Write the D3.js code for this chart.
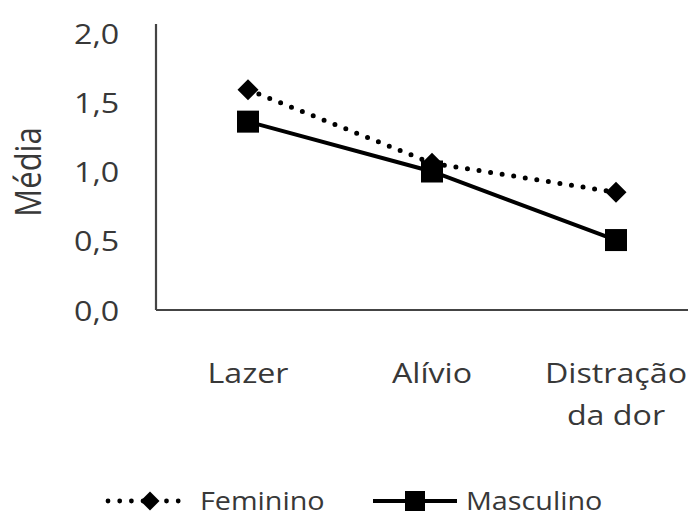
<!DOCTYPE html>
<html>
<head>
<meta charset="utf-8">
<script src="https://cdn.jsdelivr.net/npm/d3@7"></script>
<style>
  body { margin: 0; background: #fff; }
  svg { display: block; }
  text { font-family: "Open Sans", sans-serif; fill: #383838; }
</style>
</head>
<body>
<div id="chart"></div>
<script>
var categories = ["Lazer", "Alívio", "Distração\nda dor"];
var feminino = [1.59, 1.06, 0.85];
var masculino = [1.36, 1.00, 0.505];
var yTicks = [0, 0.5, 1.0, 1.5, 2.0];
var seriesNames = ["Feminino", "Masculino"];

var width = 688, height = 516;
var sx = 1.15; // text in the picture is a bit stretched sideways

var svg = d3.select("#chart").append("svg")
    .attr("width", width)
    .attr("height", height);

var x = d3.scalePoint()
    .domain(categories)
    .range([156, 708])
    .padding(0.5);

var y = d3.scaleLinear()
    .domain([0, 2])
    .range([310, 33]);

// y tick labels
var yAxis = d3.axisLeft(y)
    .tickValues(yTicks)
    .tickSize(0)
    .tickPadding(32)
    .tickFormat(function(d) { return d3.format(".1f")(d).replace(".", ","); });

var gy = svg.append("g")
    .attr("transform", "translate(156,0)")
    .call(yAxis);
gy.select(".domain").remove();
gy.selectAll("text")
    .attr("font-family", null)
    .style("font-size", "28px")
    .attr("dy", "0.36em")
    .attr("transform", "scale(" + sx + ",1)");

// axis lines
svg.append("line")
    .attr("x1", 156).attr("x2", 156)
    .attr("y1", y(0)).attr("y2", y(2) - 9)
    .attr("stroke", "#444").attr("stroke-width", 2.2);
svg.append("line")
    .attr("x1", 156).attr("x2", 708)
    .attr("y1", y(0)).attr("y2", y(0))
    .attr("stroke", "#444").attr("stroke-width", 2.2);

// category labels
var cat = svg.append("g").selectAll("text")
    .data(categories)
    .join("text")
    .attr("transform", function(d) { return "translate(" + x(d) + "," + (y(0) + 73) + ") scale(" + sx + ",1)"; })
    .attr("text-anchor", "middle")
    .style("font-size", "28px");
cat.selectAll("tspan")
    .data(function(d) { return d.split("\n"); })
    .join("tspan")
    .attr("x", 0)
    .attr("dy", function(d, i) { return i ? 42 : 0; })
    .text(function(d) { return d; });

// axis title
svg.append("text")
    .attr("transform", "translate(41,172) rotate(-90) scale(1," + sx + ")")
    .attr("text-anchor", "middle")
    .style("font-size", "31px")
    .text("Média");

var line = d3.line()
    .x(function(d, i) { return x(categories[i]); })
    .y(function(d) { return y(d); });

function diamond(sel, r) {
    sel.attr("d", "M0," + (-r) + "L" + r + ",0L0," + r + "L" + (-r) + ",0Z").attr("fill", "#000");
}
function square(sel, s) {
    sel.attr("x", -s / 2).attr("y", -s / 2).attr("width", s).attr("height", s).attr("fill", "#000");
}

// Masculino
svg.append("path")
    .attr("d", line(masculino))
    .attr("fill", "none")
    .attr("stroke", "#000")
    .attr("stroke-width", 4);
svg.append("g").selectAll("rect")
    .data(masculino)
    .join("rect")
    .attr("transform", function(d, i) { return "translate(" + x(categories[i]) + "," + y(d) + ")"; })
    .call(square, 22);

// Feminino
svg.append("path")
    .attr("d", line(feminino))
    .attr("fill", "none")
    .attr("stroke", "#000")
    .attr("stroke-width", 5)
    .attr("stroke-linecap", "round")
    .attr("stroke-dasharray", "0 11.7");
svg.append("g").selectAll("path")
    .data(feminino)
    .join("path")
    .attr("transform", function(d, i) { return "translate(" + x(categories[i]) + "," + y(d) + ")"; })
    .call(diamond, 10.5);

// legend
var ly = 501;
var lf = svg.append("g");
lf.append("line")
    .attr("x1", 108).attr("x2", 184)
    .attr("y1", ly).attr("y2", ly)
    .attr("stroke", "#000").attr("stroke-width", 4.8)
    .attr("stroke-linecap", "round")
    .attr("stroke-dasharray", "0 11.7");
lf.append("path")
    .attr("transform", "translate(150," + ly + ")")
    .call(diamond, 9.5);
lf.append("text")
    .attr("transform", "translate(200," + (ly + 9) + ") scale(" + sx + ",1)")
    .style("font-size", "25px")
    .text(seriesNames[0]);

var lm = svg.append("g");
lm.append("line")
    .attr("x1", 373).attr("x2", 457)
    .attr("y1", ly).attr("y2", ly)
    .attr("stroke", "#000").attr("stroke-width", 4);
lm.append("rect")
    .attr("transform", "translate(415," + ly + ")")
    .call(square, 20);
lm.append("text")
    .attr("transform", "translate(466," + (ly + 9) + ") scale(" + sx + ",1)")
    .style("font-size", "25px")
    .text(seriesNames[1]);
</script>
</body>
</html>
